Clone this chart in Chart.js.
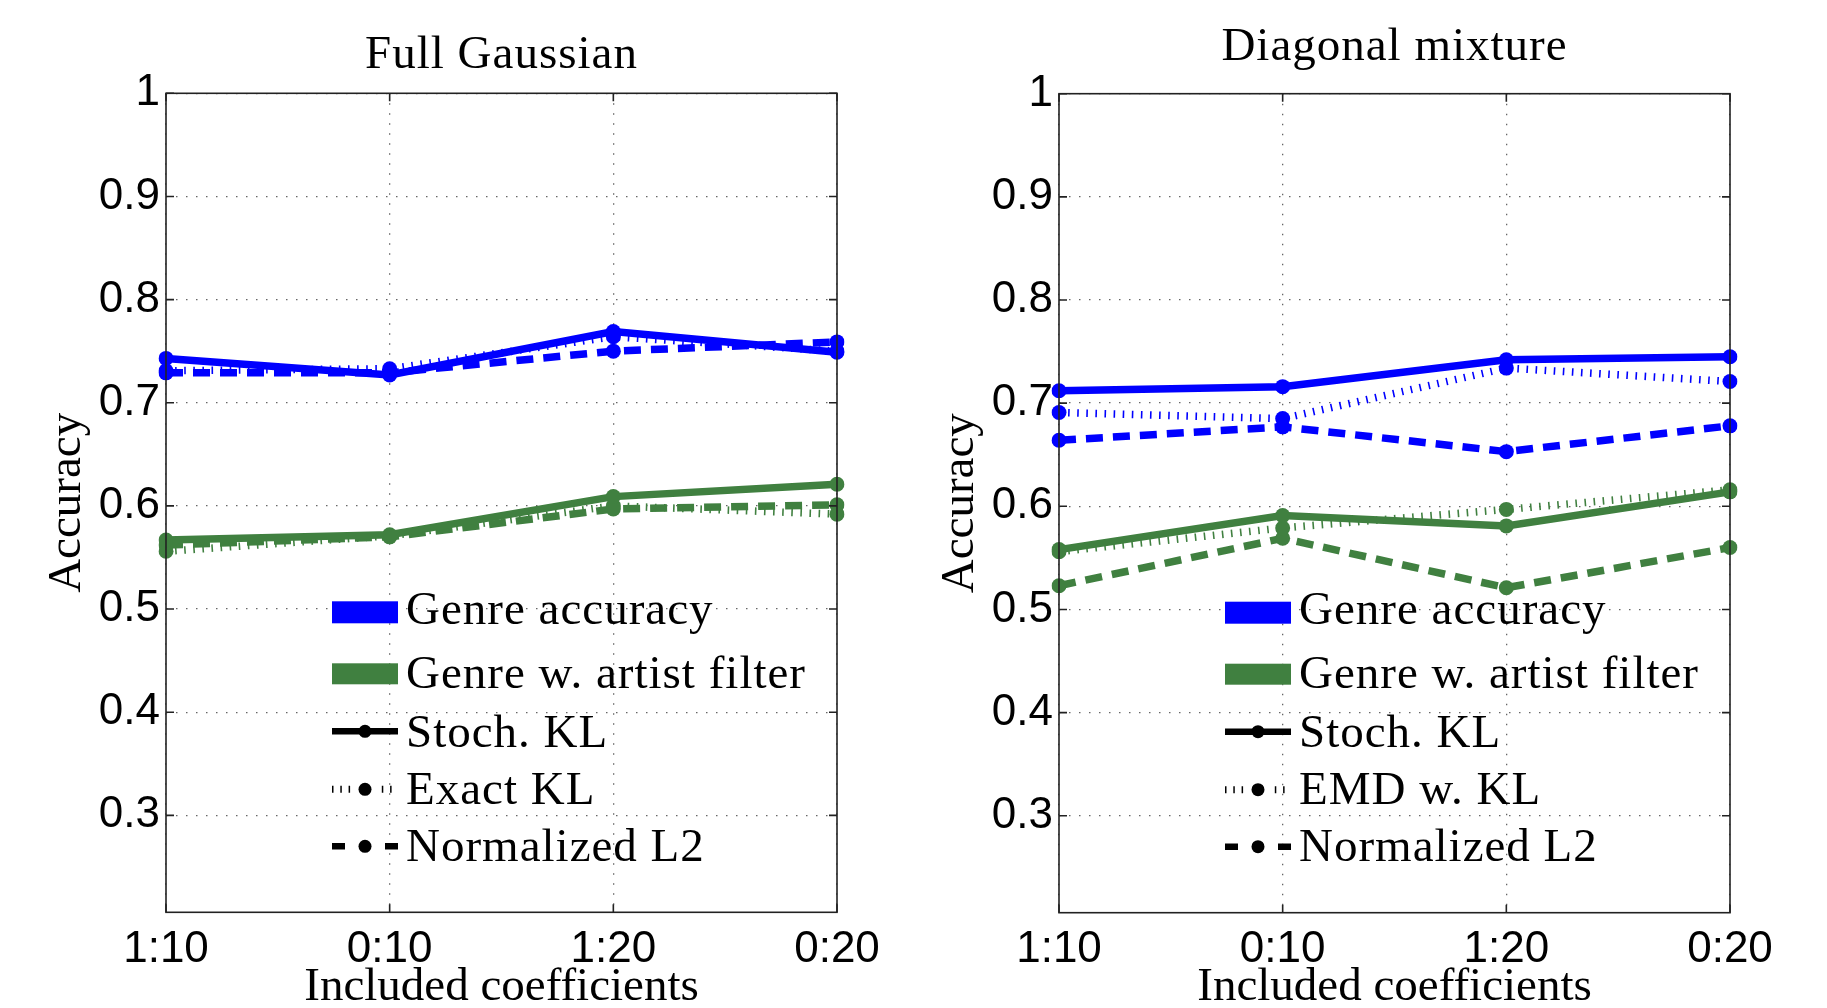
<!DOCTYPE html>
<html><head><meta charset="utf-8">
<script src="https://cdn.jsdelivr.net/npm/chart.js@4/dist/chart.umd.min.js"></script>
<style>
html,body{margin:0;padding:0;background:#fff;overflow:hidden;width:1827px;height:1008px;}
canvas{position:absolute;top:0;}
</style></head><body>
<canvas id="c1" width="893" height="1040" style="left:0"></canvas>
<canvas id="c2" width="934" height="1040" style="left:893px"></canvas>
<script>
const categories = ['1:10', '0:10', '1:20', '0:20'];
const yTicks = [0.3, 0.4, 0.5, 0.6, 0.7, 0.8, 0.9, 1];

// Full Gaussian
const fgGenreStoch  = [0.743, 0.727, 0.769, 0.749];
const fgGenreExact  = [0.731, 0.733, 0.764, 0.750];
const fgGenreL2     = [0.729, 0.729, 0.750, 0.759];
const fgArtistStoch = [0.567, 0.572, 0.609, 0.621];
const fgArtistExact = [0.556, 0.571, 0.600, 0.592];
const fgArtistL2    = [0.562, 0.570, 0.597, 0.601];

// Diagonal mixture
const dmGenreStoch  = [0.712, 0.716, 0.742, 0.745];
const dmGenreEMD    = [0.691, 0.685, 0.734, 0.721];
const dmGenreL2     = [0.664, 0.677, 0.653, 0.678];
const dmArtistStoch = [0.558, 0.591, 0.581, 0.614];
const dmArtistEMD   = [0.556, 0.579, 0.597, 0.616];
const dmArtistL2    = [0.523, 0.569, 0.521, 0.560];

const BLUE = '#0000ff';
const GREEN = '#408040';
const SERIF = '"Liberation Serif", "Times New Roman", serif';
const SANS = '"Liberation Sans", Arial, sans-serif';

function ds(data, color, style) {
  const d = {
    data, borderColor: color, backgroundColor: color,
    pointBackgroundColor: color, pointBorderWidth: 0, pointRadius: 7.5,
    borderWidth: 7.5, tension: 0, fill: false, borderCapStyle: 'butt'
  };
  if (style === 'dot') { d.borderDash = [1.6, 7.5]; d.borderWidth = 7.5; }
  if (style === 'dash') { d.borderDash = [17, 10]; }
  return d;
}

const decorPlugin = {
  id: 'decor',
  afterDatasetsDraw(chart, args, opts) {
    const {ctx, chartArea: a} = chart;
    const x0 = a.left + 166, w = 66, x1 = x0 + w, xm = x0 + w / 2, tx = x0 + 74;
    const t = a.top;
    ctx.save();
    ctx.fillStyle = BLUE; ctx.fillRect(x0, t + 508, w, 22);
    ctx.fillStyle = GREEN; ctx.fillRect(x0, t + 570, w, 21);
    ctx.strokeStyle = '#000'; ctx.fillStyle = '#000'; ctx.lineCap = 'butt';
    const dot = (x, y) => { ctx.beginPath(); ctx.arc(x, y, 6.5, 0, Math.PI * 2); ctx.fill(); };
    // solid
    let y = t + 638;
    ctx.lineWidth = 6.5; ctx.setLineDash([]);
    ctx.beginPath(); ctx.moveTo(x0, y); ctx.lineTo(x1, y); ctx.stroke(); dot(xm, y);
    // dotted
    y = t + 696;
    ctx.lineWidth = 7; ctx.setLineDash([1.5, 6.8]);
    ctx.beginPath(); ctx.moveTo(x0, y); ctx.lineTo(x1, y); ctx.stroke();
    ctx.setLineDash([]);
    ctx.fillStyle = '#fff'; ctx.fillRect(xm - 11, y - 5, 22, 10); ctx.fillStyle = '#000';
    dot(xm, y);
    // dashed
    y = t + 753;
    ctx.lineWidth = 6.5;
    ctx.beginPath(); ctx.moveTo(x0, y); ctx.lineTo(x0 + 13, y); ctx.moveTo(x1 - 13, y); ctx.lineTo(x1, y); ctx.stroke();
    dot(xm, y);
    // text
    ctx.font = '47px ' + SERIF;
    ctx.letterSpacing = '1px';
    ctx.textBaseline = 'middle'; ctx.textAlign = 'left';
    const ys = [518, 582, 641, 698, 755];
    opts.labels.forEach((s, i) => ctx.fillText(s, tx, t + ys[i]));
    ctx.restore();
  },
  afterDraw(chart, args, opts) {
    const {ctx, chartArea: a, scales} = chart;
    ctx.save();
    ctx.setLineDash([]);
    ctx.strokeStyle = '#222'; ctx.lineWidth = 1.6;
    ctx.strokeRect(a.left, a.top, a.right - a.left, a.bottom - a.top);
    const tl = 8;
    ctx.beginPath();
    yTicks.forEach(v => {
      const yy = scales.y.getPixelForValue(v);
      ctx.moveTo(a.left, yy); ctx.lineTo(a.left + tl, yy);
      ctx.moveTo(a.right, yy); ctx.lineTo(a.right - tl, yy);
    });
    categories.forEach((c, i) => {
      const xx = scales.x.getPixelForValue(i);
      ctx.moveTo(xx, a.bottom); ctx.lineTo(xx, a.bottom - tl);
      ctx.moveTo(xx, a.top); ctx.lineTo(xx, a.top + tl);
    });
    ctx.stroke();
    ctx.fillStyle = '#000';
    ctx.font = '47px ' + SERIF;
    ctx.letterSpacing = '1px';
    ctx.textAlign = 'center'; ctx.textBaseline = 'alphabetic';
    ctx.fillText(opts.title, (a.left + a.right) / 2, opts.titleY);
    ctx.restore();
  }
};

function makeChart(id, title, titleY, top, sets, labels) {
  const canvas = document.getElementById(id);
  const H = canvas.height;
  return new Chart(canvas, {
    type: 'line',
    data: {
      labels: categories,
      datasets: [
        ds(sets[0], BLUE, 'solid'), ds(sets[1], BLUE, 'dot'), ds(sets[2], BLUE, 'dash'),
        ds(sets[3], GREEN, 'solid'), ds(sets[4], GREEN, 'dot'), ds(sets[5], GREEN, 'dash')
      ]
    },
    options: {
      responsive: false, animation: false, devicePixelRatio: 1,
      layout: { padding: { top: top, left: 0, right: canvas.width - 166 - 671, bottom: 0 } },
      plugins: {
        legend: { display: false }, tooltip: { enabled: false }, title: { display: false },
        decor: { title, titleY, labels }
      },
      scales: {
        x: {
          type: 'category', offset: false,
          grid: { color: 'rgba(0,0,0,0.6)', lineWidth: 1.3, drawTicks: false },
          border: { display: false, dash: [1.5, 8.5] },
          ticks: { color: '#000', font: { family: SANS, size: 44 }, padding: 11, maxRotation: 0, autoSkip: false },
          title: { display: true, text: 'Included coefficients', color: '#000',
                   font: { family: SERIF, size: 47, lineHeight: 1 }, padding: { top: 0, bottom: 29 } },
          afterFit: s => { s.height = H - (top + 819); }
        },
        y: {
          min: 0.206, max: 1,
          afterBuildTicks: s => { s.ticks = yTicks.map(v => ({ value: v })); },
          grid: { color: 'rgba(0,0,0,0.6)', lineWidth: 1.3, drawTicks: false },
          border: { display: false, dash: [1.5, 8.5] },
          ticks: { color: '#000', font: { family: SANS, size: 44 }, padding: 6,
                   callback: v => (v === 1 ? '1' : Number(v).toFixed(1)) },
          title: { display: true, text: 'Accuracy', color: '#000',
                   font: { family: SERIF, size: 47, lineHeight: 1 }, padding: { top: 44, bottom: 0 } },
          afterFit: s => { s.width = 166; }
        }
      }
    },
    plugins: [decorPlugin]
  });
}

makeChart('c1', 'Full Gaussian', 68, 93.3,
  [fgGenreStoch, fgGenreExact, fgGenreL2, fgArtistStoch, fgArtistExact, fgArtistL2],
  ['Genre accuracy', 'Genre w. artist filter', 'Stoch. KL', 'Exact KL', 'Normalized L2']);
makeChart('c2', 'Diagonal mixture', 60, 93.7,
  [dmGenreStoch, dmGenreEMD, dmGenreL2, dmArtistStoch, dmArtistEMD, dmArtistL2],
  ['Genre accuracy', 'Genre w. artist filter', 'Stoch. KL', 'EMD w. KL', 'Normalized L2']);
</script>
</body></html>
